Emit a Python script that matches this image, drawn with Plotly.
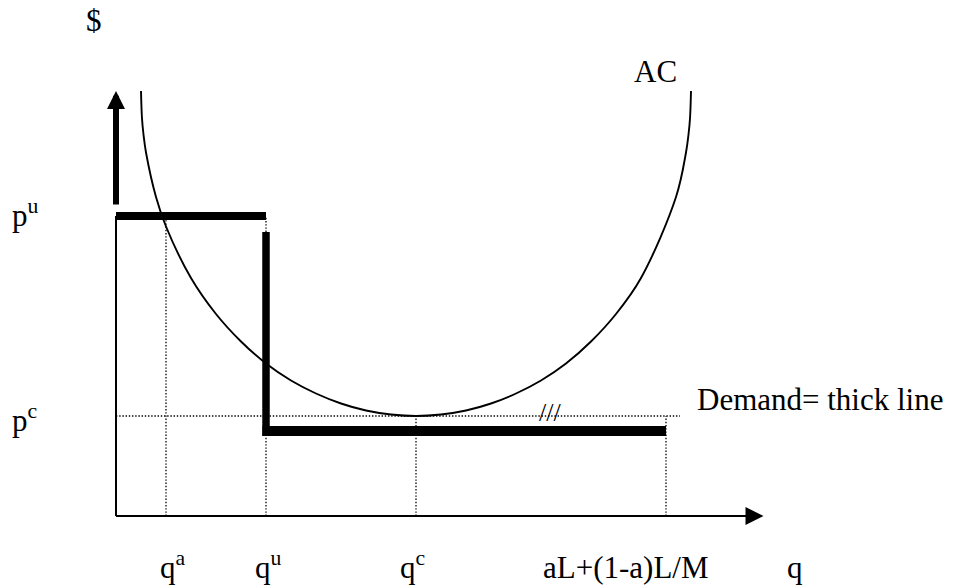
import plotly.graph_objects as go

# quantities marked on the q axis
q_a = 1.0
q_u = 3.0
q_c = 6.0
q_max = 11.0          # aL+(1-a)L/M
q_axis_end = 12.95

# prices marked on the $ axis
p_u = 6.0
p_c = 2.0
p_low = 1.7           # lower step of the demand curve
p_step_top = 5.68     # where the thick vertical step starts
p_axis_thick = 6.2
p_axis_end = 8.5

# average cost curve
ac_q = [0.5, 0.52, 0.55, 0.6, 0.8, 1.0, 1.5, 2.0, 2.5, 3.0, 3.5, 4.0, 4.5, 5.0, 5.5, 6.0,
        6.5, 7.0, 7.5, 8.0, 8.5, 9.0, 9.5, 10.0, 10.5, 11.2, 11.4, 11.45, 11.48, 11.5]
ac_cost = [8.5, 7.95, 7.63, 7.27, 6.38, 5.79, 4.76, 4.04, 3.49, 3.05, 2.71, 2.45, 2.25, 2.11, 2.03, 2.0,
           2.03, 2.11, 2.25, 2.45, 2.71, 3.05, 3.49, 4.04, 4.76, 6.38, 7.27, 7.63, 7.95, 8.5]

FONT = "Liberation Serif"
INK = "black"

fig = go.Figure()


def seg(x, y, width, dash=None):
    fig.add_trace(go.Scatter(
        x=x, y=y, mode="lines",
        line=dict(color=INK, width=width, dash=dash),
        hoverinfo="skip", showlegend=False,
    ))


# dotted guides
dots = "1.4px,1.8px"
seg([0, q_max + 0.28], [p_c, p_c], 1.3, dots)
seg([q_a, q_a], [0, p_u], 1.3, dots)
seg([q_u, q_u], [0, p_low], 1.3, dots)
seg([q_u, q_u], [p_step_top, p_u], 1.3, dots)
seg([q_c, q_c], [0, p_c], 1.3, dots)
seg([q_max, q_max], [0, p_c], 1.3, dots)

# axes (thin parts)
seg([0, 0], [0, p_u], 2)
seg([0, q_axis_end - 0.3], [0, 0], 2)

# AC curve
fig.add_trace(go.Scatter(
    x=ac_q, y=ac_cost, mode="lines",
    line=dict(color=INK, width=1.9, shape="spline", smoothing=1.0),
    hoverinfo="skip", showlegend=False,
))

# demand (thick line)
seg([0, q_u], [p_u, p_u], 8)
seg([q_u, q_u], [p_step_top, p_low - 0.1], 7.5)
seg([q_u - 0.07, q_max], [p_low, p_low], 10)

annotations = [
    # axis arrows
    dict(x=0, y=p_axis_end, ax=0, ay=p_axis_thick, xref="x", yref="y", axref="x", ayref="y",
         text="", showarrow=True, arrowhead=2, arrowwidth=6, arrowsize=0.6, arrowcolor=INK),
    dict(x=q_axis_end, y=0, ax=q_axis_end - 1.0, ay=0, xref="x", yref="y", axref="x", ayref="y",
         text="", showarrow=True, arrowhead=2, arrowwidth=2, arrowsize=1.8, arrowcolor=INK),
]

labels = [
    ("$", -0.64, 9.52),
    ("AC", 10.32, 8.5),
    ("p<sup>u</sup>", -2.12, 5.62),
    ("p<sup>c</sup>", -2.12, 1.52),
    ("q<sup>a</sup>", 0.84, -1.42),
    ("q<sup>u</sup>", 2.74, -1.42),
    ("q<sup>c</sup>", 5.64, -1.42),
    ("aL+(1-a)L/M", 8.5, -1.42),
    ("q", 13.38, -1.42),
    ("Demand= thick line", 11.58, 1.94),
]
for txt, x, y in labels:
    annotations.append(dict(
        x=x, y=y, xref="x", yref="y", text=txt, showarrow=False,
        xanchor="left", yanchor="bottom",
        font=dict(family=FONT, size=31, color=INK),
    ))

annotations.append(dict(
    x=8.67, y=2.07, xref="x", yref="y", text="///", showarrow=False,
    xanchor="center", yanchor="middle",
    font=dict(family=FONT, size=26, color=INK),
))

# the page body adds an 8px offset, so the ranges are shifted to compensate
fig.update_layout(
    width=956, height=588, autosize=False,
    margin=dict(l=0, r=0, t=0, b=0),
    paper_bgcolor="white", plot_bgcolor="white",
    xaxis=dict(range=[-2.16, 16.96], visible=False, fixedrange=True),
    yaxis=dict(range=[-1.6, 10.16], visible=False, fixedrange=True),
    annotations=annotations,
)

fig.write_html("out.html")
